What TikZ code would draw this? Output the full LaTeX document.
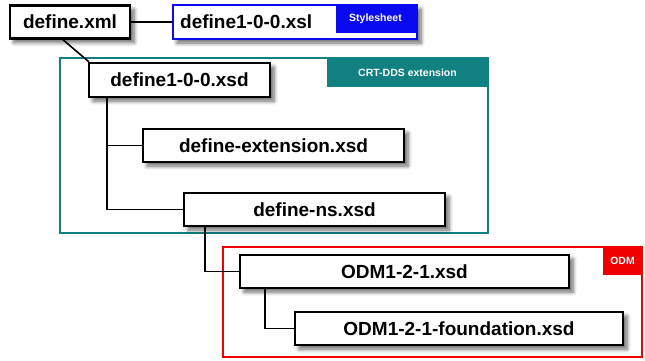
\documentclass[tikz,border=0pt]{standalone}
\usepackage{fontspec}
\setmainfont{Liberation Sans}
\usetikzlibrary{shadows.blur}
\definecolor{tealc}{RGB}{16,128,128}
\definecolor{bluec}{RGB}{10,10,240}
\definecolor{redc}{RGB}{240,0,0}
\begin{document}
\begin{tikzpicture}[x=1pt,y=1pt,
  filebox/.style={draw=black, line width=2.4pt, fill=white, inner sep=0pt,
    minimum height=33pt, font=\fontsize{19}{22}\selectfont\bfseries,
    blur shadow={shadow xshift=4pt, shadow yshift=-4pt, shadow blur steps=6, shadow blur radius=4pt, shadow opacity=60}},
  conn/.style={draw=black, line width=1.6pt},
  tag/.style={inner sep=0pt, text=white, font=\fontsize{10.5}{12}\selectfont\bfseries}
]
\useasboundingbox (0,0) rectangle (645,-360);
% group frames
\draw[tealc, line width=1.6pt] (60,-58) rectangle (488,-233);
\fill[tealc] (327,-58) rectangle (488,-87);
\node[tag] (crt) at (407.5,-72.5) {CRT-DDS extension};
\draw[redc, line width=1.4pt] (223,-247) rectangle (642,-357);
\fill[redc] (603,-247) rectangle (642,-275);
\node[tag] (odmtag) at (622.5,-261) {ODM};
% stylesheet box
\node[draw=bluec, line width=2.6pt, fill=white, minimum width=244pt, minimum height=34pt, inner sep=0pt,
  blur shadow={shadow xshift=4pt, shadow yshift=-4pt, shadow blur steps=6, shadow blur radius=4pt, shadow opacity=60}] (xsl) at (295,-22) {};
\fill[bluec] (336,-5) rectangle (415.7,-33);
\node[tag] (ss) at (375.5,-19) {Stylesheet};
\node[anchor=west, inner sep=0pt, font=\fontsize{19}{22}\selectfont\bfseries] (xsltext) at (180,-22) {define1-0-0.xsl};
% file boxes
\node[filebox, minimum width=120pt] (dxml) at (70,-22) {define.xml};
\node[filebox, minimum width=181pt, minimum height=34pt] (xsd) at (179.5,-80) {define1-0-0.xsd};
\node[filebox, minimum width=261pt] (ext) at (273.5,-145.5) {define-extension.xsd};
\node[filebox, minimum width=261pt] (ns) at (314.5,-209.5) {define-ns.xsd};
\node[filebox, minimum width=329pt] (odm) at (404.5,-271.5) {ODM1-2-1.xsd};
\node[filebox, minimum width=328pt] (found) at (459,-328.5) {ODM1-2-1-foundation.xsd};
% connectors
\draw[conn] (dxml.east) -- (xsl.west);
\draw[conn] ([xshift=-7pt]dxml.south) -- ([xshift=1pt]xsd.north west);
\coordinate (trunk) at ([xshift=19pt]xsd.south west);
\draw[conn] (trunk) |- (ext.west);
\draw[conn] (trunk) |- (ns.west);
\draw[conn] ([xshift=22pt]ns.south west) |- (odm.west);
\draw[conn] ([xshift=26pt]odm.south west) |- (found.west);
\end{tikzpicture}
\end{document}
